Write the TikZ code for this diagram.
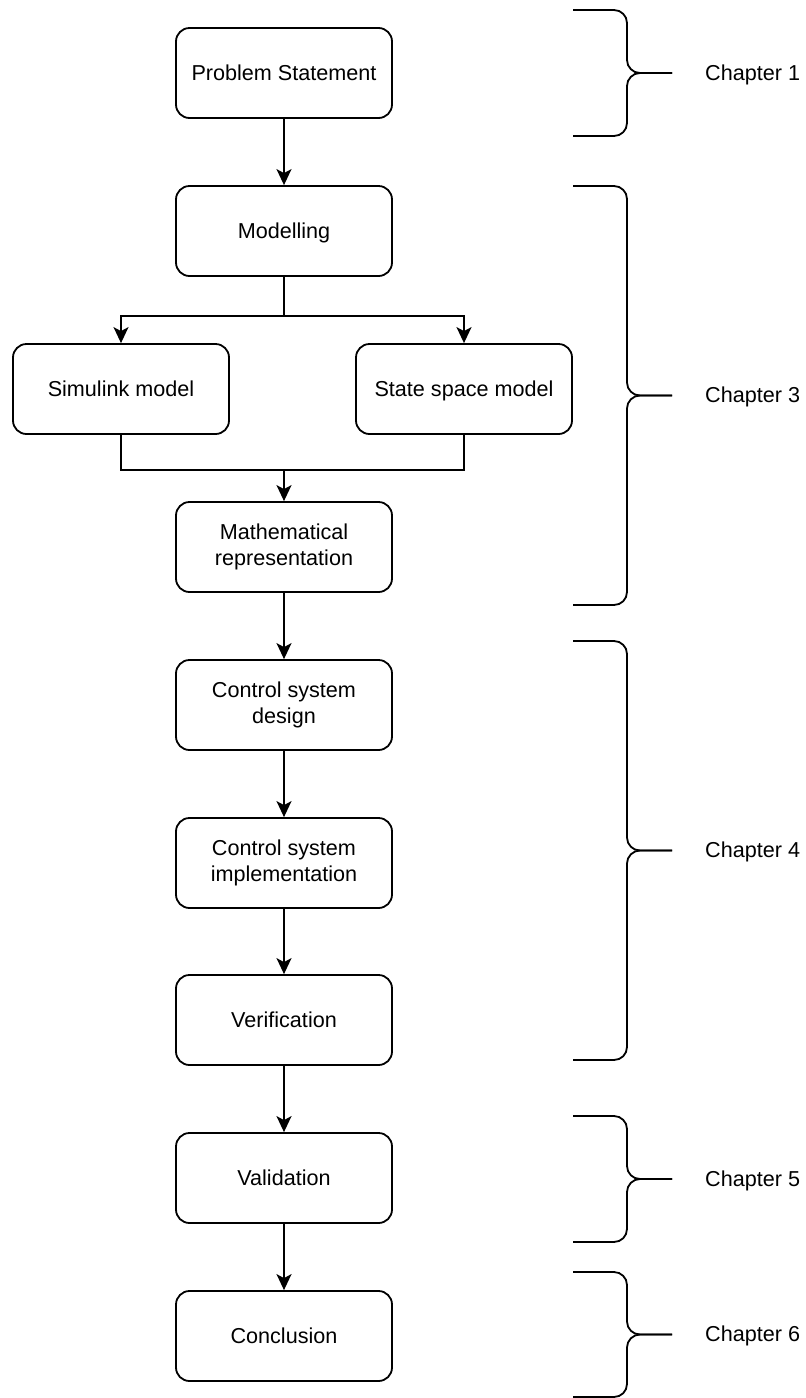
\documentclass[tikz,border=0pt]{standalone}
\usepackage{fontspec}
\setmainfont{Liberation Sans}
\usetikzlibrary{arrows.meta}

% line strut: 20.4pt above the baseline, 5.5pt below (one 25.9pt line box)
\newcommand{\linestrut}{\rule[-5.5pt]{0pt}{25.9pt}}

\tikzset{
  stepbox/.style={draw, line width=1.8pt, rounded corners=13.5pt,
    minimum width=216pt, minimum height=90pt, align=center,
    inner sep=0pt, font=\fontsize{21.6}{25.9}\selectfont,
    execute at begin node=\linestrut, execute at end node=\linestrut},
  flow/.style={line width=1.8pt},
  arr/.style={flow, -{Stealth[length=16pt, width=15pt, inset=4pt]}},
  bracepath/.style={line width=1.8pt, rounded corners=13pt},
  chaplabel/.style={anchor=west, inner sep=0pt,
    font=\fontsize{21.6}{25.9}\selectfont,
    execute at begin node=\linestrut}
}

% curly brace on the right: top y, bottom y, label name, label text
\newcommand{\chapterbrace}[4]{%
  \draw[bracepath] (573,#1) -- (627,#1) -- (627,{(#1+#2)/2}) -- (672,{(#1+#2)/2});
  \draw[bracepath] (573,#2) -- (627,#2) -- (627,{(#1+#2)/2}) -- (672,{(#1+#2)/2});
  \node[chaplabel] (#3) at (705,{(#1+#2)/2}) {#4};
}

\begin{document}
\begin{tikzpicture}[x=1pt, y=-1pt]
  \useasboundingbox (0,0) rectangle (806,1398);

  % process steps
  \node[stepbox] (ps)   at (284,73)   {Problem Statement};
  \node[stepbox] (mod)  at (284,231)  {Modelling};
  \node[stepbox] (sim)  at (121,389)  {Simulink model};
  \node[stepbox] (ss)   at (464,389)  {State space model};
  \node[stepbox] (math) at (284,547)  {Mathematical\\representation};
  \node[stepbox] (csd)  at (284,705)  {Control system\\design};
  \node[stepbox] (csi)  at (284,863)  {Control system\\implementation};
  \node[stepbox] (ver)  at (284,1020) {Verification};
  \node[stepbox] (val)  at (284,1178) {Validation};
  \node[stepbox] (con)  at (284,1336) {Conclusion};

  % branch and merge points
  \coordinate (split) at (284,316);
  \coordinate (join)  at (284,470);

  % connectors
  \draw[arr] (ps) -- (mod);
  \draw[flow] (mod.south) -- (split);
  \draw[arr] (split) -| (sim.north);
  \draw[arr] (split) -| (ss.north);
  \draw[flow] (sim.south) |- (join);
  \draw[flow] (ss.south) |- (join);
  \draw[arr] (join) -- (math.north);
  \draw[arr] (math) -- (csd);
  \draw[arr] (csd) -- (csi);
  \draw[arr] (csi) -- (ver);
  \draw[arr] (ver) -- (val);
  \draw[arr] (val) -- (con);

  % chapter braces
  \chapterbrace{10}{136}{ch1}{Chapter 1}
  \chapterbrace{186}{605}{ch3}{Chapter 3}
  \chapterbrace{641}{1060}{ch4}{Chapter 4}
  \chapterbrace{1116}{1242}{ch5}{Chapter 5}
  \chapterbrace{1272}{1397}{ch6}{Chapter 6}
\end{tikzpicture}
\end{document}
